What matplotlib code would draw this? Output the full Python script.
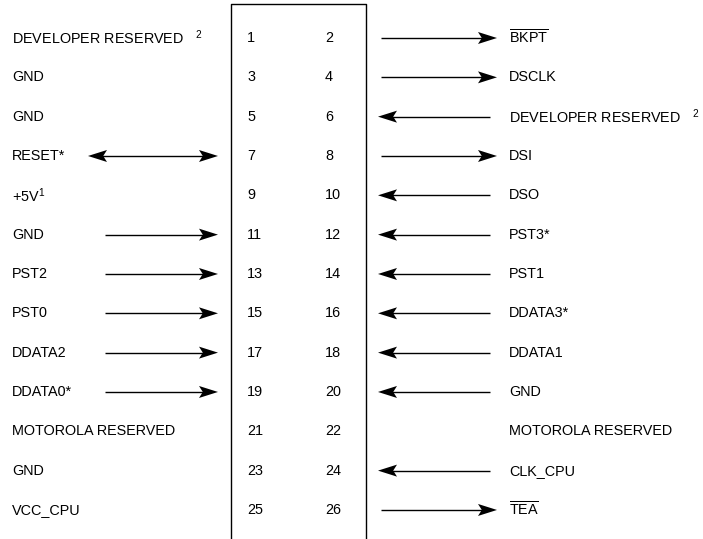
import matplotlib
matplotlib.use("Agg")
import matplotlib.pyplot as plt
from matplotlib.patches import Polygon

plt.rcParams["font.family"] = ["Liberation Sans", "DejaVu Sans"]
plt.rcParams["mathtext.fontset"] = "custom"
plt.rcParams["mathtext.rm"] = "Liberation Sans"
plt.rcParams["mathtext.it"] = "Liberation Sans"
plt.rcParams["mathtext.bf"] = "Liberation Sans"

# pin table: odd pins on the left, even pins on the right
left_pins = [1, 3, 5, 7, 9, 11, 13, 15, 17, 19, 21, 23, 25]
right_pins = [2, 4, 6, 8, 10, 12, 14, 16, 18, 20, 22, 24, 26]
left_labels = [
    r"DEVELOPER RESERVED   $^{2}$", "GND", "GND", "RESET*", r"+5V$^{1}$",
    "GND", "PST2", "PST0", "DDATA2", "DDATA0*", "MOTOROLA RESERVED",
    "GND", "VCC_CPU",
]
right_labels = [
    r"$\overline{\mathrm{BKPT}}$", "DSCLK", r"DEVELOPER RESERVED   $^{2}$",
    "DSI", "DSO", "PST3*", "PST1", "DDATA3*", "DDATA1", "GND",
    "MOTOROLA RESERVED", "CLK_CPU", r"$\overline{\mathrm{TEA}}$",
]
# signal direction: "in" = into connector, "out" = away, "both", "" = none
left_dirs = ["", "", "", "both", "", "in", "in", "in", "in", "in", "", "", ""]
right_dirs = ["out", "out", "in", "out", "in", "in", "in", "in", "in", "in",
              "", "in", "out"]

W, H = 703, 539
row0, row_step = 38, 39.33
box_l, box_r, box_t = 231, 366, 4
HEAD_LEN, HEAD_HALF, NOTCH = 19, 6, 0.8


def head(ax, tip, y, d):
    pts = [(tip, y), (tip - d * HEAD_LEN, y - HEAD_HALF),
           (tip - d * HEAD_LEN * NOTCH, y), (tip - d * HEAD_LEN, y + HEAD_HALF)]
    ax.add_patch(Polygon(pts, closed=True, color="black", lw=0))


def arrow(ax, x0, x1, y, heads):
    # heads: which ends carry a head, subset of {"start", "end"}
    a, b = x0, x1
    if "start" in heads:
        a = x0 + HEAD_LEN * 0.7
        head(ax, x0, y, -1)
    if "end" in heads:
        b = x1 - HEAD_LEN * 0.7
        head(ax, x1, y, 1)
    ax.plot([a, b], [y, y], color="black", lw=1.0, solid_capstyle="butt")


fig = plt.figure(figsize=(W / 100, H / 100), dpi=100)
ax = fig.add_axes([0, 0, 1, 1])
ax.set_xlim(0, W)
ax.set_ylim(H, 0)
ax.axis("off")

ax.plot([box_l, box_l, box_r, box_r], [H + 5, box_t, box_t, H + 5],
        color="black", lw=1.0)

fs = 10.4
for i in range(len(left_pins)):
    y = row0 + i * row_step
    ax.text(247, y, str(left_pins[i]), fontsize=fs, va="center", ha="left")
    ax.text(325, y, str(right_pins[i]), fontsize=fs, va="center", ha="left")
    ax.text(12, y, left_labels[i], fontsize=fs, va="center", ha="left")
    ax.text(509, y, right_labels[i], fontsize=fs, va="center", ha="left")

    ld = left_dirs[i]
    if ld == "both":
        arrow(ax, 88, 218, y, {"start", "end"})
    elif ld == "in":
        arrow(ax, 105, 218, y, {"end"})

    rd = right_dirs[i]
    if rd == "out":
        arrow(ax, 381, 497, y, {"end"})
    elif rd == "in":
        arrow(ax, 378, 490, y, {"start"})

fig.savefig("out.png", dpi=100)
